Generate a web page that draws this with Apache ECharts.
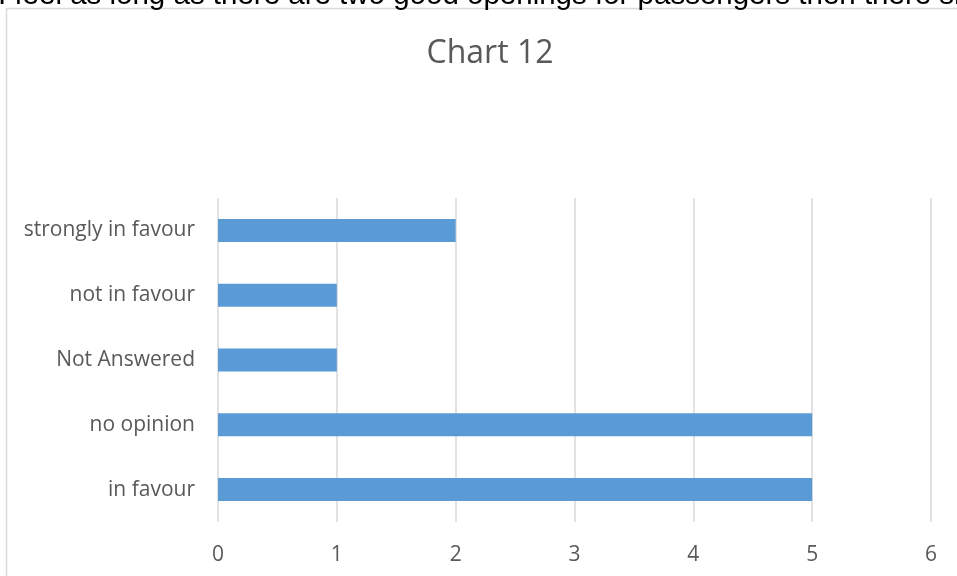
<!DOCTYPE html>
<html>
<head>
<meta charset="utf-8">
<script src="https://cdn.jsdelivr.net/npm/echarts@6/dist/echarts.min.js"></script>
<style>html,body{margin:0;padding:0;background:#fff;}#c{width:957px;height:576px;}</style>
</head>
<body>
<div id="c"></div>
<script>
const categories = ['in favour', 'no opinion', 'Not Answered', 'not in favour', 'strongly in favour'];
const values = [5, 5, 1, 1, 2];
const xTicks = [0, 1, 2, 3, 4, 5, 6];
const titleText = 'Chart 12';
const headerText = 'I feel as long as there are two good openings for passengers then there should be';

const chart = echarts.init(document.getElementById('c'), null, {renderer: 'canvas'});
const font = '"Open Sans", "Liberation Sans", sans-serif';
chart.setOption({
  animation: false,
  backgroundColor: '#fff',
  title: {
    text: titleText, left: 485, top: 33, textAlign: 'center',
    textStyle: {color: '#595959', fontSize: 32, fontWeight: 'normal', fontFamily: font}
  },
  graphic: [
    {type: 'rect', shape: {x: 6.5, y: 8.5, width: 1000, height: 700}, style: {fill: 'none', stroke: '#d9d9d9', lineWidth: 1.5}, z: 0},
    {type: 'text', x: -2, y: 10, style: {text: headerText, fill: '#000', fontSize: 29.5, fontFamily: '"Liberation Sans", Arial, sans-serif', verticalAlign: 'bottom', lineHeight: 29}, z: 10}
  ],
  grid: {left: 218, right: 26, top: 198, bottom: 54, containLabel: false},
  xAxis: {
    type: 'value', min: xTicks[0], max: xTicks[xTicks.length - 1], interval: 1,
    axisLine: {show: false}, axisTick: {show: false},
    splitLine: {show: true, lineStyle: {color: '#d9d9d9', width: 1.5}},
    axisLabel: {color: '#595959', fontSize: 21, fontFamily: font, margin: 23}
  },
  yAxis: {
    type: 'category', data: categories,
    axisLine: {show: false}, axisTick: {show: false},
    axisLabel: {color: '#595959', fontSize: 21, fontFamily: font, margin: 23, padding: [3, 0, 0, 0]}
  },
  series: [{
    type: 'bar', data: values, barWidth: 23,
    itemStyle: {color: '#5b9bd5'}
  }]
});
</script>
</body>
</html>
